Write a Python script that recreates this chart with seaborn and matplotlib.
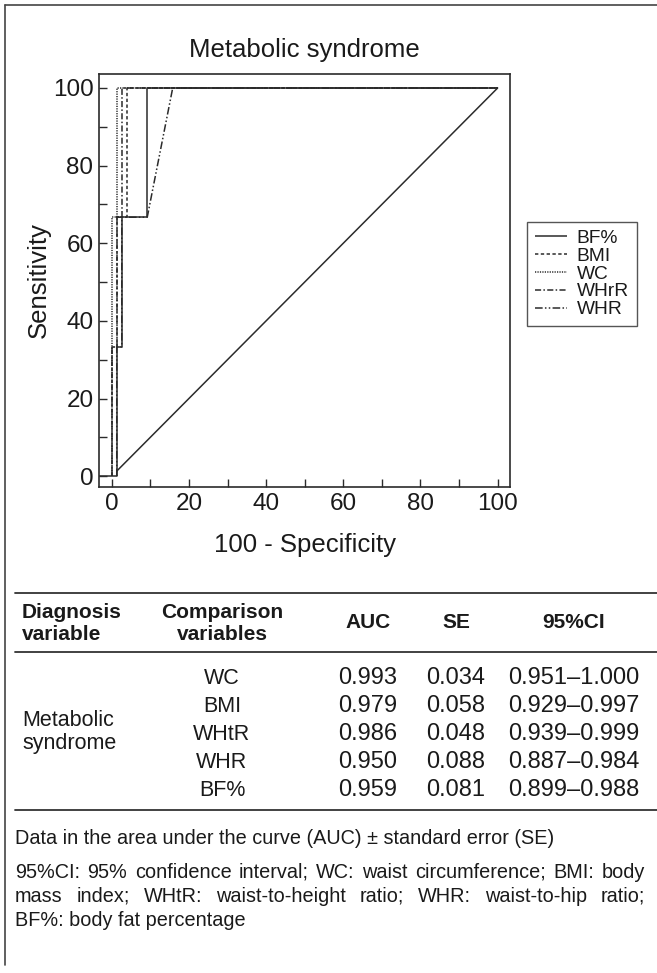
import matplotlib
matplotlib.use("Agg")
import matplotlib.pyplot as plt
from matplotlib.lines import Line2D
import seaborn as sns
import pandas as pd

# ---------------- data ----------------
title = "Metabolic syndrome"
xlabel = "100 - Specificity"
ylabel = "Sensitivity"

bf_x = [1.3, 1.3, 2.6, 2.6, 9.2, 9.2, 100]
bf_y = [0, 33.3, 33.3, 66.7, 66.7, 100, 100]
bmi_x = [0, 0, 1.3, 1.3, 3.9, 3.9, 100]
bmi_y = [0, 33.3, 33.3, 66.7, 66.7, 100, 100]
wc_x = [0, 0, 1.3, 1.3, 100]
wc_y = [0, 66.7, 66.7, 100, 100]
whtr_x = [0, 0, 1.3, 1.3, 2.6, 2.6, 100]
whtr_y = [0, 33.3, 33.3, 66.7, 66.7, 100, 100]
whr_x = [1.3, 1.3, 2.6, 2.6, 1.3, 9.2, 15.8, 100]
whr_y = [0, 33.3, 33.3, 66.7, 66.7, 66.7, 100, 100]
diag_x = [1.3, 100]
diag_y = [1.3, 100]
base_x = [-3.3, 1.3]
base_y = [0, 0]

legend_labels = ["BF%", "BMI", "WC", "WHrR", "WHR"]

diag_variable = ["Metabolic", "syndrome"]
comparison_vars = ["WC", "BMI", "WHtR", "WHR", "BF%"]
auc_vals = [0.993, 0.979, 0.986, 0.950, 0.959]
se_vals = [0.034, 0.058, 0.048, 0.088, 0.081]
ci_low = [0.951, 0.929, 0.939, 0.887, 0.899]
ci_high = [1.000, 0.997, 0.999, 0.984, 0.988]
header_cols = [["Diagnosis", "variable"], ["Comparison", "variables"], ["AUC"], ["SE"], ["95%CI"]]

foot_line1 = "Data in the area under the curve (AUC) \u00b1 standard error (SE)"
foot_justified = ["95%CI: 95% confidence interval; WC: waist circumference; BMI: body",
                  "mass index; WHtR: waist-to-height ratio; WHR: waist-to-hip ratio;"]
foot_last = "BF%: body fat percentage"

# ---------------- style ----------------
sns.set_theme(style="white")
plt.rcParams['font.family'] = ['Liberation Sans', 'DejaVu Sans']
TXT = "#1a1a1a"
LC = "#2b2b2b"

W, H = 657, 973
fig = plt.figure(figsize=(W / 100, H / 100), dpi=100)

def fx(x):
    return x / W

def fy(y):
    return 1 - y / H

ax_l, ax_r, ax_t, ax_b = 99, 510, 74, 487
ax = fig.add_axes([fx(ax_l), fy(ax_b), fx(ax_r - ax_l), (ax_b - ax_t) / H])

styles = {
    "BF%": (0, ()),
    "BMI": (0, (2.2, 1.6)),
    "WC": (0, (0.8, 0.8)),
    "WHrR": (0, (4, 1.5, 1, 1.5)),
    "WHR": (0, (5, 1.5, 1, 1.5, 1, 1.5)),
}
curves = {
    "BF%": (bf_x, bf_y),
    "BMI": (bmi_x, bmi_y),
    "WC": (wc_x, wc_y),
    "WHrR": (whtr_x, whtr_y),
    "WHR": (whr_x, whr_y),
}
lw = 1.1
for name in ["WHR", "WHrR", "BMI", "WC", "BF%"]:
    xs, ys = curves[name]
    df = pd.DataFrame({"x": xs, "y": ys})
    sns.lineplot(data=df, x="x", y="y", ax=ax, sort=False, estimator=None,
                 color=LC, linewidth=lw, linestyle=styles[name])
for xs, ys in [(diag_x, diag_y), (base_x, base_y)]:
    df = pd.DataFrame({"x": xs, "y": ys})
    sns.lineplot(data=df, x="x", y="y", ax=ax, sort=False, estimator=None,
                 color=LC, linewidth=lw)

ax.set_xlim(-3.3, 103.2)
ax.set_ylim(-2.8, 103.6)
ax.set_xticks([0, 20, 40, 60, 80, 100])
ax.set_yticks([0, 20, 40, 60, 80, 100])
ax.set_xticks([10, 30, 50, 70, 90], minor=True)
ax.set_yticks([10, 30, 50, 70, 90], minor=True)
ax.tick_params(which="both", direction="in", length=6, width=1.0, color=LC,
               labelsize=17.5, labelcolor=TXT, pad=4, bottom=True, left=True)
for s in ax.spines.values():
    s.set_color(LC)
    s.set_linewidth(1.2)
ax.set_xlabel(xlabel, fontsize=18.5, color=TXT, labelpad=13)
ax.set_ylabel(ylabel, fontsize=18.5, color=TXT, labelpad=1)
ax.set_title(title, fontsize=18.5, color=TXT, pad=12)

handles = [Line2D([0], [0], color=LC, lw=lw, linestyle=styles[n]) for n in legend_labels]
leg = fig.legend(handles, legend_labels, loc="upper left",
                 bbox_to_anchor=(fx(527), fy(222)), frameon=True, fancybox=False,
                 fontsize=13.8, handlelength=1.7, handletextpad=0.5, labelspacing=0.02,
                 borderpad=0.4, borderaxespad=0)
leg.get_frame().set_edgecolor(LC)
leg.get_frame().set_linewidth(1.0)
for t in leg.get_texts():
    t.set_color(TXT)

# ---------------- border ----------------
fig.add_artist(Line2D([fx(5), fx(5)], [fy(5), fy(965)], color="#444444", lw=1.2))
fig.add_artist(Line2D([fx(5), fx(657)], [fy(5), fy(5)], color="#444444", lw=1.2))

# ---------------- table ----------------
for yl in [593, 652, 810]:
    fig.add_artist(Line2D([fx(15), fx(657)], [fy(yl), fy(yl)], color="#333333", lw=1.3))

col_x = [22, 222, 368, 456, 574]
fs_tab = 15
fs_num = 17
for i, lines in enumerate(header_cols):
    ha = "left" if i == 0 else "center"
    if len(lines) == 2:
        fig.text(fx(col_x[i]), fy(612), lines[0], ha=ha, va="center", fontsize=fs_tab,
                 fontweight="bold", color=TXT)
        fig.text(fx(col_x[i]), fy(634), lines[1], ha=ha, va="center", fontsize=fs_tab,
                 fontweight="bold", color=TXT)
    else:
        fig.text(fx(col_x[i]), fy(623), lines[0], ha=ha, va="center", fontsize=fs_tab,
                 fontweight="bold", color=TXT)

row_y = [678, 706, 734, 762, 790]
for j in range(len(comparison_vars)):
    y = fy(row_y[j])
    fig.text(fx(col_x[1]), y, comparison_vars[j], ha="center", va="center", fontsize=fs_tab + 0.5, color=TXT)
    fig.text(fx(col_x[2]), y, f"{auc_vals[j]:.3f}", ha="center", va="center", fontsize=fs_num, color=TXT)
    fig.text(fx(col_x[3]), y, f"{se_vals[j]:.3f}", ha="center", va="center", fontsize=fs_num, color=TXT)
    fig.text(fx(col_x[4]), y, f"{ci_low[j]:.3f}\u2013{ci_high[j]:.3f}", ha="center", va="center",
             fontsize=fs_num, color=TXT)
fig.text(fx(col_x[0]), fy(720), diag_variable[0], ha="left", va="center", fontsize=fs_tab + 0.5, color=TXT)
fig.text(fx(col_x[0]), fy(744), diag_variable[1], ha="left", va="center", fontsize=fs_tab + 0.5, color=TXT)

# ---------------- footnotes ----------------
fs_f = 14.3
fig.text(fx(15), fy(839), foot_line1, ha="left", va="center", fontsize=fs_f, color=TXT)
fig.canvas.draw()
renderer = fig.canvas.get_renderer()
left_px, right_px = 15, 645
for k, line in enumerate(foot_justified):
    words = line.split(" ")
    ypos = fy(872 + 24 * k)
    arts = [fig.text(0, ypos, w, ha="left", va="center", fontsize=fs_f, color=TXT) for w in words]
    widths = [a.get_window_extent(renderer).width for a in arts]
    gap = (right_px - left_px - sum(widths)) / (len(words) - 1)
    xcur = left_px
    for a, wdt in zip(arts, widths):
        a.set_x(fx(xcur))
        xcur += wdt + gap
fig.text(fx(15), fy(920), foot_last, ha="left", va="center", fontsize=fs_f, color=TXT)

fig.savefig("out.png", dpi=100, facecolor="white")
